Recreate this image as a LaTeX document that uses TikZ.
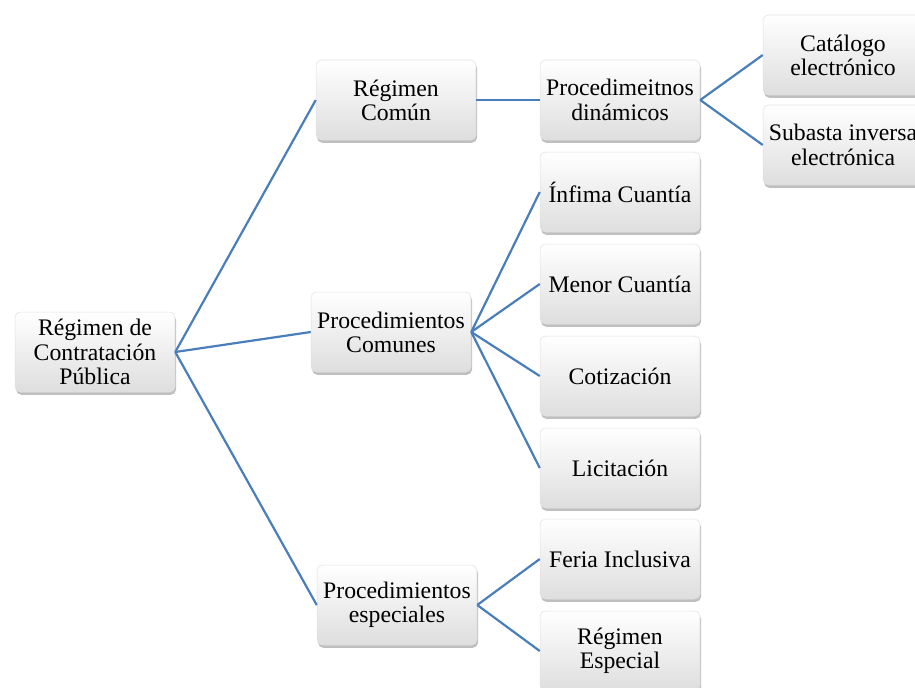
\documentclass[tikz,border=0pt]{standalone}
\usepackage{fontspec}
\setmainfont{Liberation Serif}
\usetikzlibrary{shadows}

\definecolor{linkblue}{RGB}{74,126,187}

\begin{document}
\begin{tikzpicture}[x=0.02cm,y=-0.02cm]

\def\boxw{3.2}
\def\boxh{1.6}
\def\colA{95}   % <-- root column
\def\colB{396}
\def\colC{620}
\def\colD{843}

\tikzset{
    procbox/.style={
        rounded corners=3pt,
        draw=black!12,
        line width=0.3pt,
        top color=white,
        bottom color=black!13,
        drop shadow={shadow xshift=0.6pt,shadow yshift=-1.6pt,opacity=0.5},
        minimum width=\boxw cm,
        minimum height=\boxh cm,
        inner sep=1pt,
        font=\fontsize{13.5}{13.8}\selectfont,
        align=center
    },
    link/.style={
        draw=linkblue,
        line width=1.25pt
    }
}

\useasboundingbox (0,0) rectangle (915,687);
\clip (0,0) rectangle (915,687);

% Root
\node[procbox] (root) at (\colA,352) {Régimen de\\Contratación\\Pública};

% Second level
\node[procbox] (comun) at (\colB,100) {Régimen\\Común};
\node[procbox] (pcomunes) at (391,332) {Procedimientos\\Comunes};
\node[procbox] (pespeciales) at (397,605) {Procedimientos\\especiales};

% Third level
\node[procbox] (dinamicos) at (\colC,100) {Procedimeitnos\\dinámicos};

\foreach \name/\y/\txt in {infima/192/Ínfima Cuantía,menor/284/Menor Cuantía,
                           cotiz/376/Cotización,licit/468/Licitación}{
    \node[procbox] (\name) at (\colC,\y) {\txt};
}

\node[procbox] (feria) at (\colC,559) {Feria Inclusiva};
\node[procbox] (rgesp) at (\colC,651) {Régimen\\Especial};

% Fourth level
\node[procbox] (catalogo) at (\colD,55) {Catálogo\\electrónico};
\node[procbox] (subasta) at (\colD,145) {Subasta inversa\\electrónica};

% Connectors
\foreach \child in {comun,pcomunes,pespeciales}{
    \draw[link] (root.east) -- (\child.west);
}
\draw[link] (comun.east) -- (dinamicos.west);
\foreach \child in {catalogo,subasta}{
    \draw[link] (dinamicos.east) -- (\child.west);
}
\foreach \child in {infima,menor,cotiz,licit}{
    \draw[link] (pcomunes.east) -- (\child.west);
}
\foreach \child in {feria,rgesp}{
    \draw[link] (pespeciales.east) -- (\child.west);
}

\end{tikzpicture}
\end{document}
